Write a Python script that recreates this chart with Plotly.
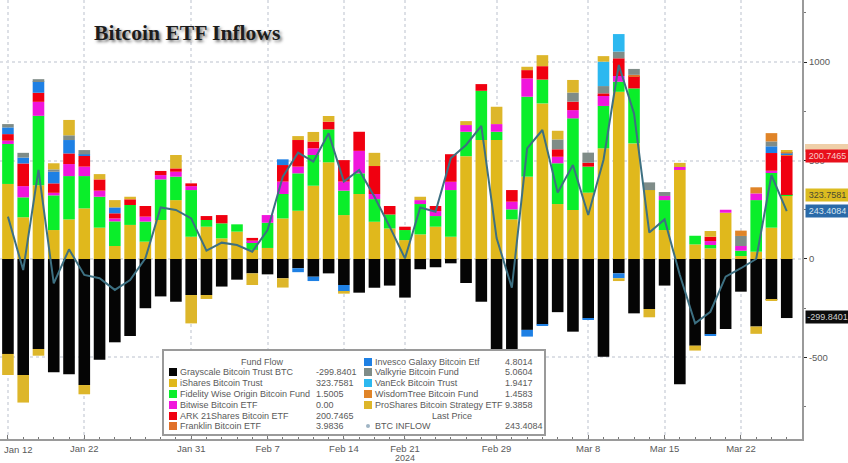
import plotly.graph_objects as go

W, H = 848, 463
PLOT_W, PLOT_H = 802, 439

dates = [
    "Jan 12", "Jan 16", "Jan 17", "Jan 18", "Jan 19", "Jan 22", "Jan 23", "Jan 24", "Jan 25", "Jan 26",
    "Jan 29", "Jan 30", "Jan 31", "Feb 1", "Feb 2", "Feb 5", "Feb 6", "Feb 7", "Feb 8", "Feb 9",
    "Feb 12", "Feb 13", "Feb 14", "Feb 15", "Feb 16", "Feb 20", "Feb 21", "Feb 22", "Feb 23", "Feb 26",
    "Feb 27", "Feb 28", "Feb 29", "Mar 1", "Mar 4", "Mar 5", "Mar 6", "Mar 7", "Mar 8", "Mar 11",
    "Mar 12", "Mar 13", "Mar 14", "Mar 15", "Mar 18", "Mar 19", "Mar 20", "Mar 21", "Mar 22", "Mar 25",
    "Mar 26", "Mar 27",
]
date_ticks = ["Jan 12", "Jan 22", "Jan 31", "Feb 7", "Feb 14", "Feb 21", "Feb 29", "Mar 8", "Mar 15", "Mar 22"]
# first label sits right of its tick in the original, drawn separately below
date_labels = [""] + date_ticks[1:]

grayscale = [
    -482, -589, -457, -575, -585, -640, -511, -423, -391, -250,
    -190, -217, -183, -183, -140, -105, -73, -78, -98, -47,
    -90, -73, -132, -171, -146, -135, -196, -52, -42, -22,
    -122, -217, -560, -500, -360, -332, -270, -369, -301, -496,
    -73, -276, -254, -135, -636, -440, -382, -355, -166, -343,
    -208, -299.84,
]
ishares = [
    381, 212, 375, 147, 201, 257, 159, 66, 173, 88,
    198, 299, 113, 164, 105, 139, 46, 56, 206, 245,
    372, 491, 223, 330, 189, 155, 96, 125, 164, 113,
    522, 604, 604, 201, 418, 790, 279, 249, 337, 562,
    849, 587, 350, 147, 452, 74, 54, 235, 15, 37,
    159, 323.76,
]
fidelity = [
    203, 101, 352, 176, 220, 164, 157, 125, 101, 102,
    206, 119, 237, 34, 76, 37, 39, 128, 124, 190,
    156, 167, 124, 105, 115, 71, 51, 154, 54, 237,
    124, 250, 42, 51, 406, 121, 207, 465, 132, 215,
    51, 279, 0, 152, 0, 44, 17, 0, 27, 262,
    279, 1.5,
]
bitwise = [
    17, 57, 71, 13, 61, 48, 31, 15, 0, 25,
    22, 25, 20, 0, 0, 0, 8, 39, 63, 34,
    34, 0, 46, 114, 26, 0, 0, 20, 25, 42,
    34, 0, 39, 39, 93, 0, 33, 42, 0, 55,
    29, 0, 0, 21, 15, 0, 20, 15, 24, 34,
    10, 0,
]
ark = [
    33, 115, 46, 48, 54, 54, 57, 26, 29, 54,
    21, 17, 14, 20, 42, 0, 14, 0, 84, 135,
    34, 39, 109, 97, 142, 43, 17, 0, 26, 140,
    0, 34, 0, 59, 42, 68, 38, 43, 20, 9,
    90, 63, 0, 0, 0, 0, 22, 0, 0, 0,
    90, 200.75,
]
franklin = [
    0, 0, 0, 0, 0, 0, 0, 0, 0, 0,
    0, 0, 0, 0, 0, 0, 0, 0, 0, 0,
    0, 0, 0, 0, 0, 0, 0, 0, 0, 0,
    0, 0, 0, 0, 0, 0, 0, 0, 0, 0,
    0, 6, 0, 0, 0, 0, 0, 0, 0, 0,
    0, 3.98,
]
invesco = [
    34, 30, 59, 59, 68, 8, 0, 30, 0, 0,
    0, 0, 0, 0, 0, 0, 0, 0, 29, -20,
    -22, 0, -34, 0, 0, 0, 0, 0, 0, 0,
    0, 0, 0, 0, -34, -8, 0, 0, -5, 0,
    -25, 0, 0, 0, 0, 0, -8, 0, 0, 0,
    34, 4.8,
]
valkyrie = [
    17, 24, 10, 12, 24, 22, 0, 0, 0, 0,
    0, 0, 0, 0, 0, 0, 0, 0, 0, 0,
    0, 0, 0, 0, 0, 0, 0, 0, 0, 0,
    0, 0, 0, 0, 0, 0, 50, 46, 51, 37,
    34, 30, 39, 20, 0, 0, 0, 0, 51, 0,
    25, 5.06,
]
vaneck = [
    0, 0, 0, 0, 0, 0, 0, 0, 0, 0,
    0, 0, 0, 0, 0, 0, 0, 0, 0, 0,
    0, 0, 0, 0, 0, 0, 0, 0, 0, 0,
    0, 0, 0, 0, 0, 0, 0, 0, 0, 124,
    89, 0, 0, 0, 0, 0, 0, 0, 0, 0,
    0, 1.94,
]
wisdomtree = [
    0, 0, 0, 0, 0, 0, 0, 0, 0, 0,
    0, 0, 0, 0, 0, 0, 0, 0, 0, 0,
    0, 0, 0, 0, 0, 0, 0, 0, 0, 0,
    0, 0, 0, 0, 0, 0, 0, 0, 0, 0,
    0, 0, 0, 0, 0, 0, 0, 0, 27, 31,
    42, 1.46,
]
proshares = [
    -107, -140, -34, 31, 78, -47, 27, 37, 13, 0,
    0, 68, -144, -20, 0, 0, -59, 0, -47, 20,
    49, 29, -10, 0, 67, 0, 0, 17, 0, 0,
    20, 0, 88, 0, 17, 56, 44, 64, 0, 28,
    -14, 0, -42, 0, 21, -25, 29, 0, 0, -37,
    -5, 9.39,
]
btc_inflow = [
    215, -56, 452, -124, 49, -81, -98, -157, -107, 3,
    262, 249, 206, 42, 83, 71, 37, 147, 418, 540,
    494, 638, 393, 452, 316, 164, 3, 261, 240, 511,
    579, 676, 106, -146, 562, 655, 337, 477, 223, 503,
    985, 739, 134, 201, -81, -327, -268, -90, -47, 0,
    426, 243.41,
]

series = [
    ("Grayscale Bitcoin Trust BTC", grayscale, "#050505"),
    ("iShares Bitcoin Trust", ishares, "#E0B81C"),
    ("Fidelity Wise Origin Bitcoin Fund", fidelity, "#0AEE2A"),
    ("Bitwise Bitcoin ETF", bitwise, "#F016DC"),
    ("ARK 21Shares Bitcoin ETF", ark, "#F00010"),
    ("Franklin Bitcoin ETF", franklin, "#E0702A"),
    ("Invesco Galaxy Bitcoin Etf", invesco, "#1E80E4"),
    ("Valkyrie Bitcoin Fund", valkyrie, "#7F8C88"),
    ("VanEck Bitcoin Trust", vaneck, "#2CB8F0"),
    ("WisdomTree Bitcoin Fund", wisdomtree, "#E08428"),
    ("ProShares Bitcoin Strategy ETF", proshares, "#DDB62A"),
]
legend_left = ["-299.8401", "323.7581", "1.5005", "0.00", "200.7465", "3.9836"]
legend_right = ["4.8014", "5.0604", "1.9417", "1.4583", "9.3858"]

FONT = "Liberation Sans"
TEXT = "#5a5a5a"
GRID = "#dde0e6"


def px_x(x):
    return x / PLOT_W


def px_y(y):
    return (PLOT_H - y) / PLOT_H


fig = go.Figure()
for name, values, color in series:
    fig.add_bar(x=dates, y=values, name=name, marker=dict(color=color, line=dict(width=0)), width=0.76)
fig.add_scatter(x=dates, y=btc_inflow, mode="lines", name="BTC INFLOW", line=dict(color="#3d7082", width=2))

annotations = [
    dict(text="<b>Bitcoin ETF Inflows</b>", x=px_x(92), y=px_y(33), xanchor="left",
         font=dict(family="Liberation Serif", size=21.6, color="#1c1c1c", shadow="2px 2px 3px #777")),
    dict(text="Jan 12", x=px_x(18), y=px_y(449), xanchor="center", font=dict(family=FONT, size=9.5, color=TEXT)),
    dict(text="2024", x=px_x(405), y=px_y(458), xanchor="center", font=dict(family=FONT, size=9, color=TEXT)),
    dict(text="Fund Flow", x=px_x(262), y=px_y(362), xanchor="center", font=dict(family=FONT, size=9, color=TEXT)),
    dict(text="Last Price", x=px_x(452), y=px_y(416), xanchor="center", font=dict(family=FONT, size=9, color=TEXT)),
    dict(text="BTC INFLOW", x=px_x(373), y=px_y(426), xanchor="left", font=dict(family=FONT, size=9, color=TEXT)),
    dict(text="243.4084", x=px_x(503), y=px_y(426), xanchor="left", font=dict(family=FONT, size=9, color=TEXT)),
]

shapes = [
    # tan badge peeking out behind the red one
    dict(type="rect", xref="paper", yref="paper", x0=px_x(805), x1=px_x(848), y0=px_y(152), y1=px_y(144),
         fillcolor="#EFCFA8", line=dict(width=0)),
    dict(type="rect", xref="paper", yref="paper", x0=px_x(163), x1=px_x(545), y0=px_y(435), y1=px_y(350),
         fillcolor="white", line=dict(color="#9a9a9a", width=2)),
    dict(type="circle", xref="paper", yref="paper", x0=px_x(366), x1=px_x(370), y0=px_y(428), y1=px_y(424),
         fillcolor="#9fb4c4", line=dict(width=0)),
]

rows_left = [372, 383, 394, 405, 416, 426]
rows_right = [362, 372, 383, 394, 405]
for i, (name, values, color) in enumerate(series):
    if i < 6:
        mx, tx, vx, row, val = 173, 178, 314, rows_left[i], legend_left[i]
    else:
        mx, tx, vx, row, val = 368, 373, 503, rows_right[i - 6], legend_right[i - 6]
    shapes.append(dict(type="rect", xref="paper", yref="paper", x0=px_x(mx - 4), x1=px_x(mx + 4),
                       y0=px_y(row + 4), y1=px_y(row - 4), fillcolor=color, line=dict(width=0)))
    annotations.append(dict(text=name, x=px_x(tx), y=px_y(row), xanchor="left",
                            font=dict(family=FONT, size=9, color=TEXT)))
    annotations.append(dict(text=val, x=px_x(vx), y=px_y(row), xanchor="left",
                            font=dict(family=FONT, size=9, color=TEXT)))

# last value badges on the right axis
badges = [
    ("200.7465", 156, "#E8101C", "#F8C8C8"),
    ("323.7581", 195, "#DCBC20", "#4a4a30"),
    ("243.4084", 211, "#2A6AA8", "#D8E6F2"),
    ("-299.8401", 317, "#0c0c0c", "#cfcfcf"),
]
for label, y, bg, fg in badges:
    annotations.append(dict(text=label, x=px_x(805), y=px_y(y), xanchor="left", width=43, height=12,
                            bgcolor=bg, borderpad=0, align="center", font=dict(family=FONT, size=9, color=fg)))

for a in annotations:
    a.update(xref="paper", yref="paper", showarrow=False, yanchor="middle")

fig.update_layout(
    width=W,
    height=H,
    barmode="relative",
    showlegend=False,
    paper_bgcolor="white",
    plot_bgcolor="white",
    margin=dict(l=0, r=W - PLOT_W, t=0, b=H - PLOT_H, autoexpand=False),
    annotations=annotations,
    shapes=shapes,
    font=dict(family=FONT, size=9.5, color=TEXT),
    xaxis=dict(
        type="category",
        categoryorder="array",
        categoryarray=dates,
        range=[-0.52, 52],
        tickmode="array",
        tickvals=date_ticks,
        ticktext=date_labels,
        ticks="inside",
        ticklen=4,
        tickcolor="#777",
        showgrid=True,
        griddash="dot",
        gridcolor=GRID,
        gridwidth=1.5,
        showline=True,
        linecolor="#9a9a9a",
        linewidth=2,
        minor=dict(ticks="inside", ticklen=2, dtick=1, tick0=0, tickcolor="#777"),
    ),
    yaxis=dict(
        side="right",
        range=[-914, 1315],
        tickmode="array",
        tickvals=[-500, 0, 500, 1000],
        ticktext=["-500", "0", "500", "1000"],
        ticks="outside",
        ticklen=3,
        tickcolor="#222",
        showgrid=True,
        griddash="dot",
        gridcolor=GRID,
        gridwidth=1.5,
        zeroline=False,
        showline=True,
        linecolor="#9a9a9a",
        linewidth=2,
        minor=dict(ticks="outside", ticklen=2, dtick=250, tick0=0, tickcolor="#777"),
    ),
)

fig.write_html("out.html", config=dict(displayModeBar=False), post_script="document.body.style.margin='0';")
